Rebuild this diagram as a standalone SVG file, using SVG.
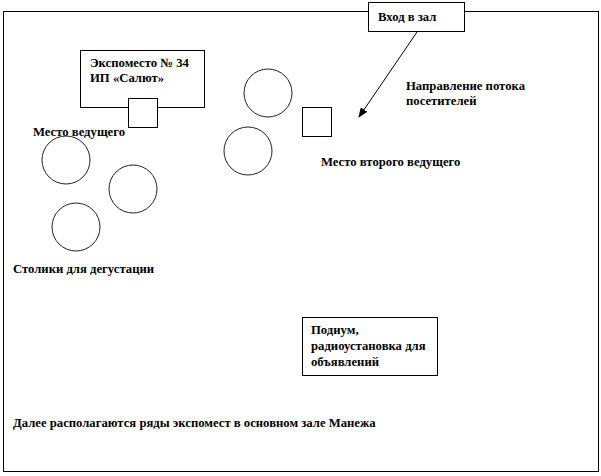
<svg xmlns="http://www.w3.org/2000/svg" width="601" height="476" viewBox="0 0 601 476">
<style>
text{font-family:'Liberation Serif','Times New Roman','DejaVu Serif',serif;font-weight:bold;font-size:12.7px;fill:#000}
.box{fill:#fff;stroke:#000;stroke-width:1}
.tbl{fill:none;stroke:#222;stroke-width:1}
</style>
<defs>
<marker id="ah" markerWidth="10" markerHeight="8" refX="9" refY="4" orient="auto" markerUnits="userSpaceOnUse">
<path d="M0,0 L10,4 L0,8 Z" fill="#000"/>
</marker>
</defs>
<rect width="601" height="476" fill="#fff"/>
<rect id="hall" x="3.5" y="11.5" width="595" height="460" fill="none" stroke="#000" stroke-width="1"/>
<g id="entrance"><rect class="box" x="368.5" y="2.5" width="96" height="29"/><text x="378" y="21">Вход  в зал</text></g>
<g id="expo"><rect class="box" x="80.5" y="50.5" width="124" height="57"/><text x="90" y="67">Экспоместо № 34</text><text x="90" y="82">ИП «Салют»</text></g>
<g id="host1-place"><rect class="box" x="128.5" y="98.5" width="29" height="29"/></g>
<g id="host1-label"><text x="33" y="136">Место ведущего</text></g>
<g id="host2-place"><rect class="box" x="302.5" y="107.5" width="29" height="29"/></g>
<g id="host2-label"><text x="321" y="166">Место второго ведущего</text></g>
<g id="flow-label"><text x="406" y="90">Направление потока</text><text x="406" y="105">посетителей</text></g>
<g id="tables">
<circle class="tbl" cx="268" cy="93" r="24"/>
<circle class="tbl" cx="248" cy="151" r="24"/>
<circle class="tbl" cx="66" cy="160" r="24"/>
<circle class="tbl" cx="133" cy="189" r="24"/>
<circle class="tbl" cx="76" cy="227" r="24"/>
</g>
<g id="tables-label"><text x="13" y="273">Столики  для дегустации</text></g>
<g id="podium"><rect class="box" x="302.5" y="317.5" width="135" height="58"/><text x="311" y="334">Подиум,</text><text x="311" y="350">радиоустановка для</text><text x="311" y="366">объявлений</text></g>
<g id="note"><text x="13" y="427">Далее располагаются ряды экспомест в основном зале Манежа</text></g>
<g id="connectors"><line x1="417" y1="32" x2="359" y2="117" stroke="#000" stroke-width="1" marker-end="url(#ah)"/></g>
</svg>
